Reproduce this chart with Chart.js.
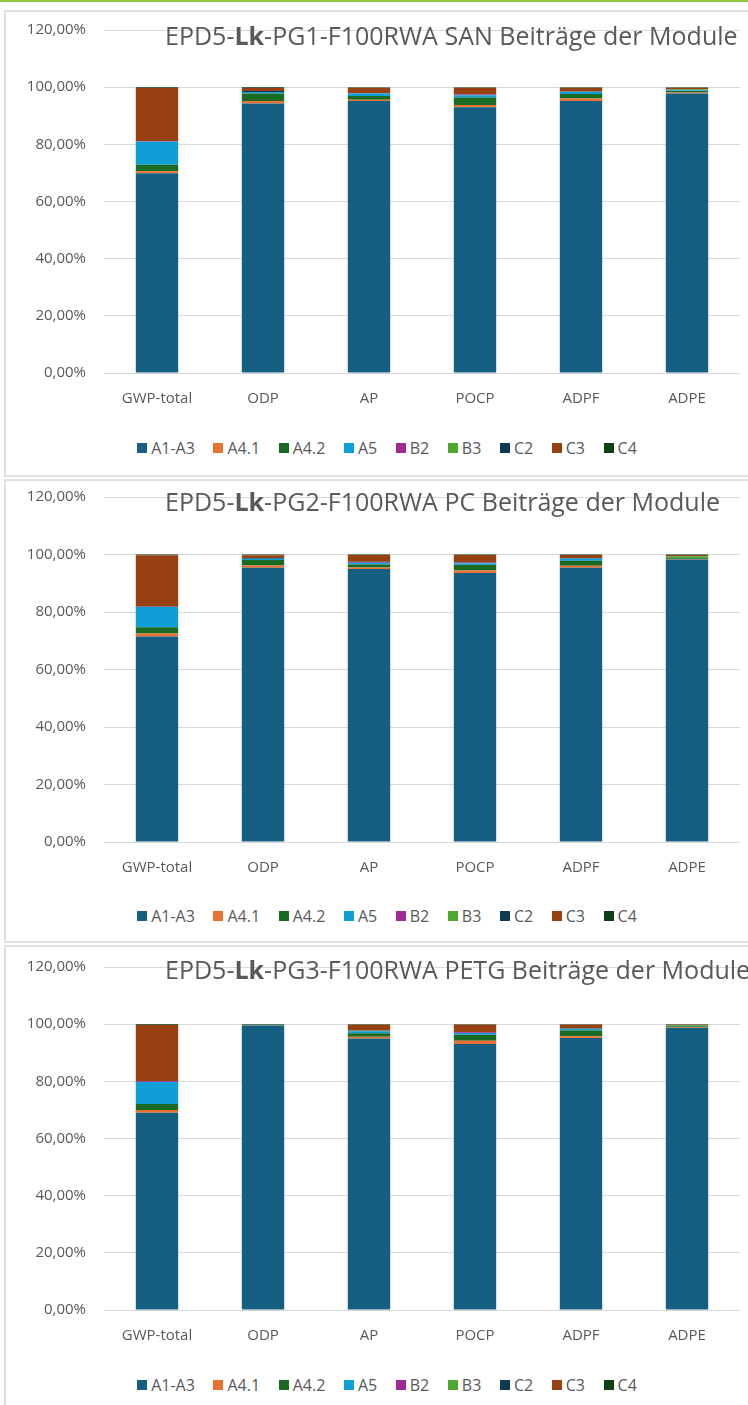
<!DOCTYPE html>
<html><head><meta charset="utf-8">
<script src="https://cdn.jsdelivr.net/npm/chart.js@4.4.1/dist/chart.umd.min.js"></script>
<style>
html,body{margin:0;padding:0;background:#fff;}
body{width:748px;height:1405px;overflow:hidden;position:relative;font-family:'Open Sans',sans-serif;}
#topline{position:absolute;left:0;top:0;width:748px;height:2px;background:#8dc63f;}
.panel{position:absolute;left:4px;width:800px;border:2px solid #e0e0e0;box-sizing:border-box;}
.cv{position:absolute;left:0;}
.title{position:absolute;left:165px;white-space:nowrap;color:#595959;font-size:24px;line-height:1;}
.legend{position:absolute;left:4px;width:766px;height:20px;display:flex;justify-content:center;align-items:center;color:#595959;font-size:16px;}
.legend .it{display:flex;align-items:center;margin:0 9.3px;}
.legend .bx{width:10px;height:10px;margin-right:4px;}
</style>
</head><body>
<div id="topline"></div>
<div class="panel" style="top:10px;height:467px"></div>
<div class="panel" style="top:479px;height:464px"></div>
<div class="panel" style="top:945px;height:500px"></div>
<canvas id="c1" class="cv" width="748" height="403" style="top:10px"></canvas>
<canvas id="c2" class="cv" width="748" height="403" style="top:479px"></canvas>
<canvas id="c3" class="cv" width="748" height="405" style="top:945px"></canvas>
<div class="title" id="t1" style="top:23px">EPD5-<b>Lk</b>-PG1-F100RWA SAN Beiträge der Module</div>
<div class="title" id="t2" style="top:489px">EPD5-<b>Lk</b>-PG2-F100RWA PC Beiträge der Module</div>
<div class="title" id="t3" style="top:957px">EPD5-<b>Lk</b>-PG3-F100RWA PETG Beiträge der Module</div>
<div class="legend" id="l1" style="top:438px"></div>
<div class="legend" id="l2" style="top:906px"></div>
<div class="legend" id="l3" style="top:1375px"></div>
<script>
// ---- data ----
const categories = ['GWP-total','ODP','AP','POCP','ADPF','ADPE'];
const modules = ['A1-A3','A4.1','A4.2','A5','B2','B3','C2','C3','C4'];
const moduleColors = ['#156082','#E97132','#196B24','#0F9ED5','#A02B93','#4EA72E','#0D3A4E','#974012','#0F4015'];
const yTicks = [0,20,40,60,80,100,120];

// PG1 SAN (%)
const pg1_A1A3 = [69.9, 94.3, 95.2, 93.0, 95.2, 97.8];
const pg1_A41  = [0.7, 0.9, 0.4, 0.8, 0.8, 0.3];
const pg1_A42  = [2.3, 2.6, 1.3, 2.6, 1.6, 0.6];
const pg1_A5   = [8.0, 0.5, 0.9, 0.8, 0.8, 0.2];
const pg1_B2   = [0.2, 0.0, 0.1, 0.2, 0.0, 0.0];
const pg1_B3   = [0.0, 0.0, 0.0, 0.0, 0.0, 0.3];
const pg1_C2   = [0.1, 0.4, 0.1, 0.1, 0.1, 0.1];
const pg1_C3   = [18.5, 1.0, 1.8, 2.3, 1.3, 0.5];
const pg1_C4   = [0.3, 0.3, 0.2, 0.2, 0.2, 0.2];

// PG2 PC (%)
const pg2_A1A3 = [71.5, 95.4, 95.0, 93.6, 95.4, 98.3];
const pg2_A41  = [1.0, 0.8, 0.5, 0.8, 0.7, 0.1];
const pg2_A42  = [2.2, 1.9, 1.0, 2.0, 1.7, 0.3];
const pg2_A5   = [7.0, 0.4, 0.6, 0.6, 0.8, 0.1];
const pg2_B2   = [0.1, 0.0, 0.3, 0.1, 0.0, 0.0];
const pg2_B3   = [0.0, 0.0, 0.0, 0.0, 0.0, 0.5];
const pg2_C2   = [0.1, 0.3, 0.1, 0.2, 0.2, 0.1];
const pg2_C3   = [17.8, 0.9, 2.3, 2.5, 1.0, 0.4];
const pg2_C4   = [0.3, 0.3, 0.2, 0.2, 0.2, 0.2];

// PG3 PETG (%)
const pg3_A1A3 = [69.0, 99.5, 95.0, 93.1, 95.2, 98.7];
const pg3_A41  = [1.0, 0.1, 0.6, 1.1, 0.6, 0.1];
const pg3_A42  = [2.1, 0.1, 1.2, 2.1, 2.0, 0.5];
const pg3_A5   = [7.7, 0.0, 0.7, 0.6, 0.6, 0.0];
const pg3_B2   = [0.2, 0.0, 0.1, 0.3, 0.0, 0.0];
const pg3_B3   = [0.0, 0.0, 0.1, 0.0, 0.0, 0.2];
const pg3_C2   = [0.1, 0.1, 0.1, 0.1, 0.1, 0.1];
const pg3_C3   = [19.6, 0.0, 2.0, 2.5, 1.3, 0.2];
const pg3_C4   = [0.3, 0.2, 0.2, 0.2, 0.2, 0.2];

const panels = [
  {id:'c1', legend:'l1', padTop:20, series:[pg1_A1A3,pg1_A41,pg1_A42,pg1_A5,pg1_B2,pg1_B3,pg1_C2,pg1_C3,pg1_C4]},
  {id:'c2', legend:'l2', padTop:18, series:[pg2_A1A3,pg2_A41,pg2_A42,pg2_A5,pg2_B2,pg2_B3,pg2_C2,pg2_C3,pg2_C4]},
  {id:'c3', legend:'l3', padTop:22, series:[pg3_A1A3,pg3_A41,pg3_A42,pg3_A5,pg3_B2,pg3_B3,pg3_C2,pg3_C3,pg3_C4]}
];

// title fit
const t1 = document.getElementById('t1');
const f = 24 * 573 / t1.getBoundingClientRect().width;
['t1','t2','t3'].forEach(id => document.getElementById(id).style.fontSize = f + 'px');

const tickFont = {family:"'Open Sans', sans-serif", size:15};
panels.forEach(p => {
  const lg = document.getElementById(p.legend);
  modules.forEach((m,i) => {
    const it = document.createElement('div'); it.className='it';
    const bx = document.createElement('span'); bx.className='bx'; bx.style.background = moduleColors[i];
    const tx = document.createElement('span'); tx.textContent = m;
    it.appendChild(bx); it.appendChild(tx); lg.appendChild(it);
  });
  new Chart(document.getElementById(p.id), {
    type:'bar',
    data:{
      labels:categories,
      datasets: modules.map((m,i) => ({
        label:m, data:p.series[i], backgroundColor:moduleColors[i],
        borderWidth:0, barPercentage:0.4, categoryPercentage:1.0
      }))
    },
    options:{
      responsive:false, animation:false, devicePixelRatio:1,
      layout:{padding:{top:p.padTop, right:8, bottom:0, left:0}},
      plugins:{legend:{display:false}, tooltip:{enabled:false}},
      scales:{
        x:{stacked:true, grid:{display:false, drawTicks:false}, border:{display:false},
           ticks:{color:'#595959', font:tickFont, padding:17, maxRotation:0},
           afterFit(s){ s.height = 40; }},
        y:{stacked:true, min:0, max:120,
           afterBuildTicks(s){ s.ticks = yTicks.map(v => ({value:v})); },
           ticks:{color:'#595959', font:tickFont, padding:18,
                  callback:v => v.toFixed(2).replace('.', ',') + '%'},
           grid:{color:'#d9d9d9', lineWidth:1, drawTicks:false}, border:{display:false},
           afterFit(s){ s.width = 104; s.paddingTop = 0; s.paddingBottom = 0; }}
      }
    }
  });
});
</script>
</body></html>
